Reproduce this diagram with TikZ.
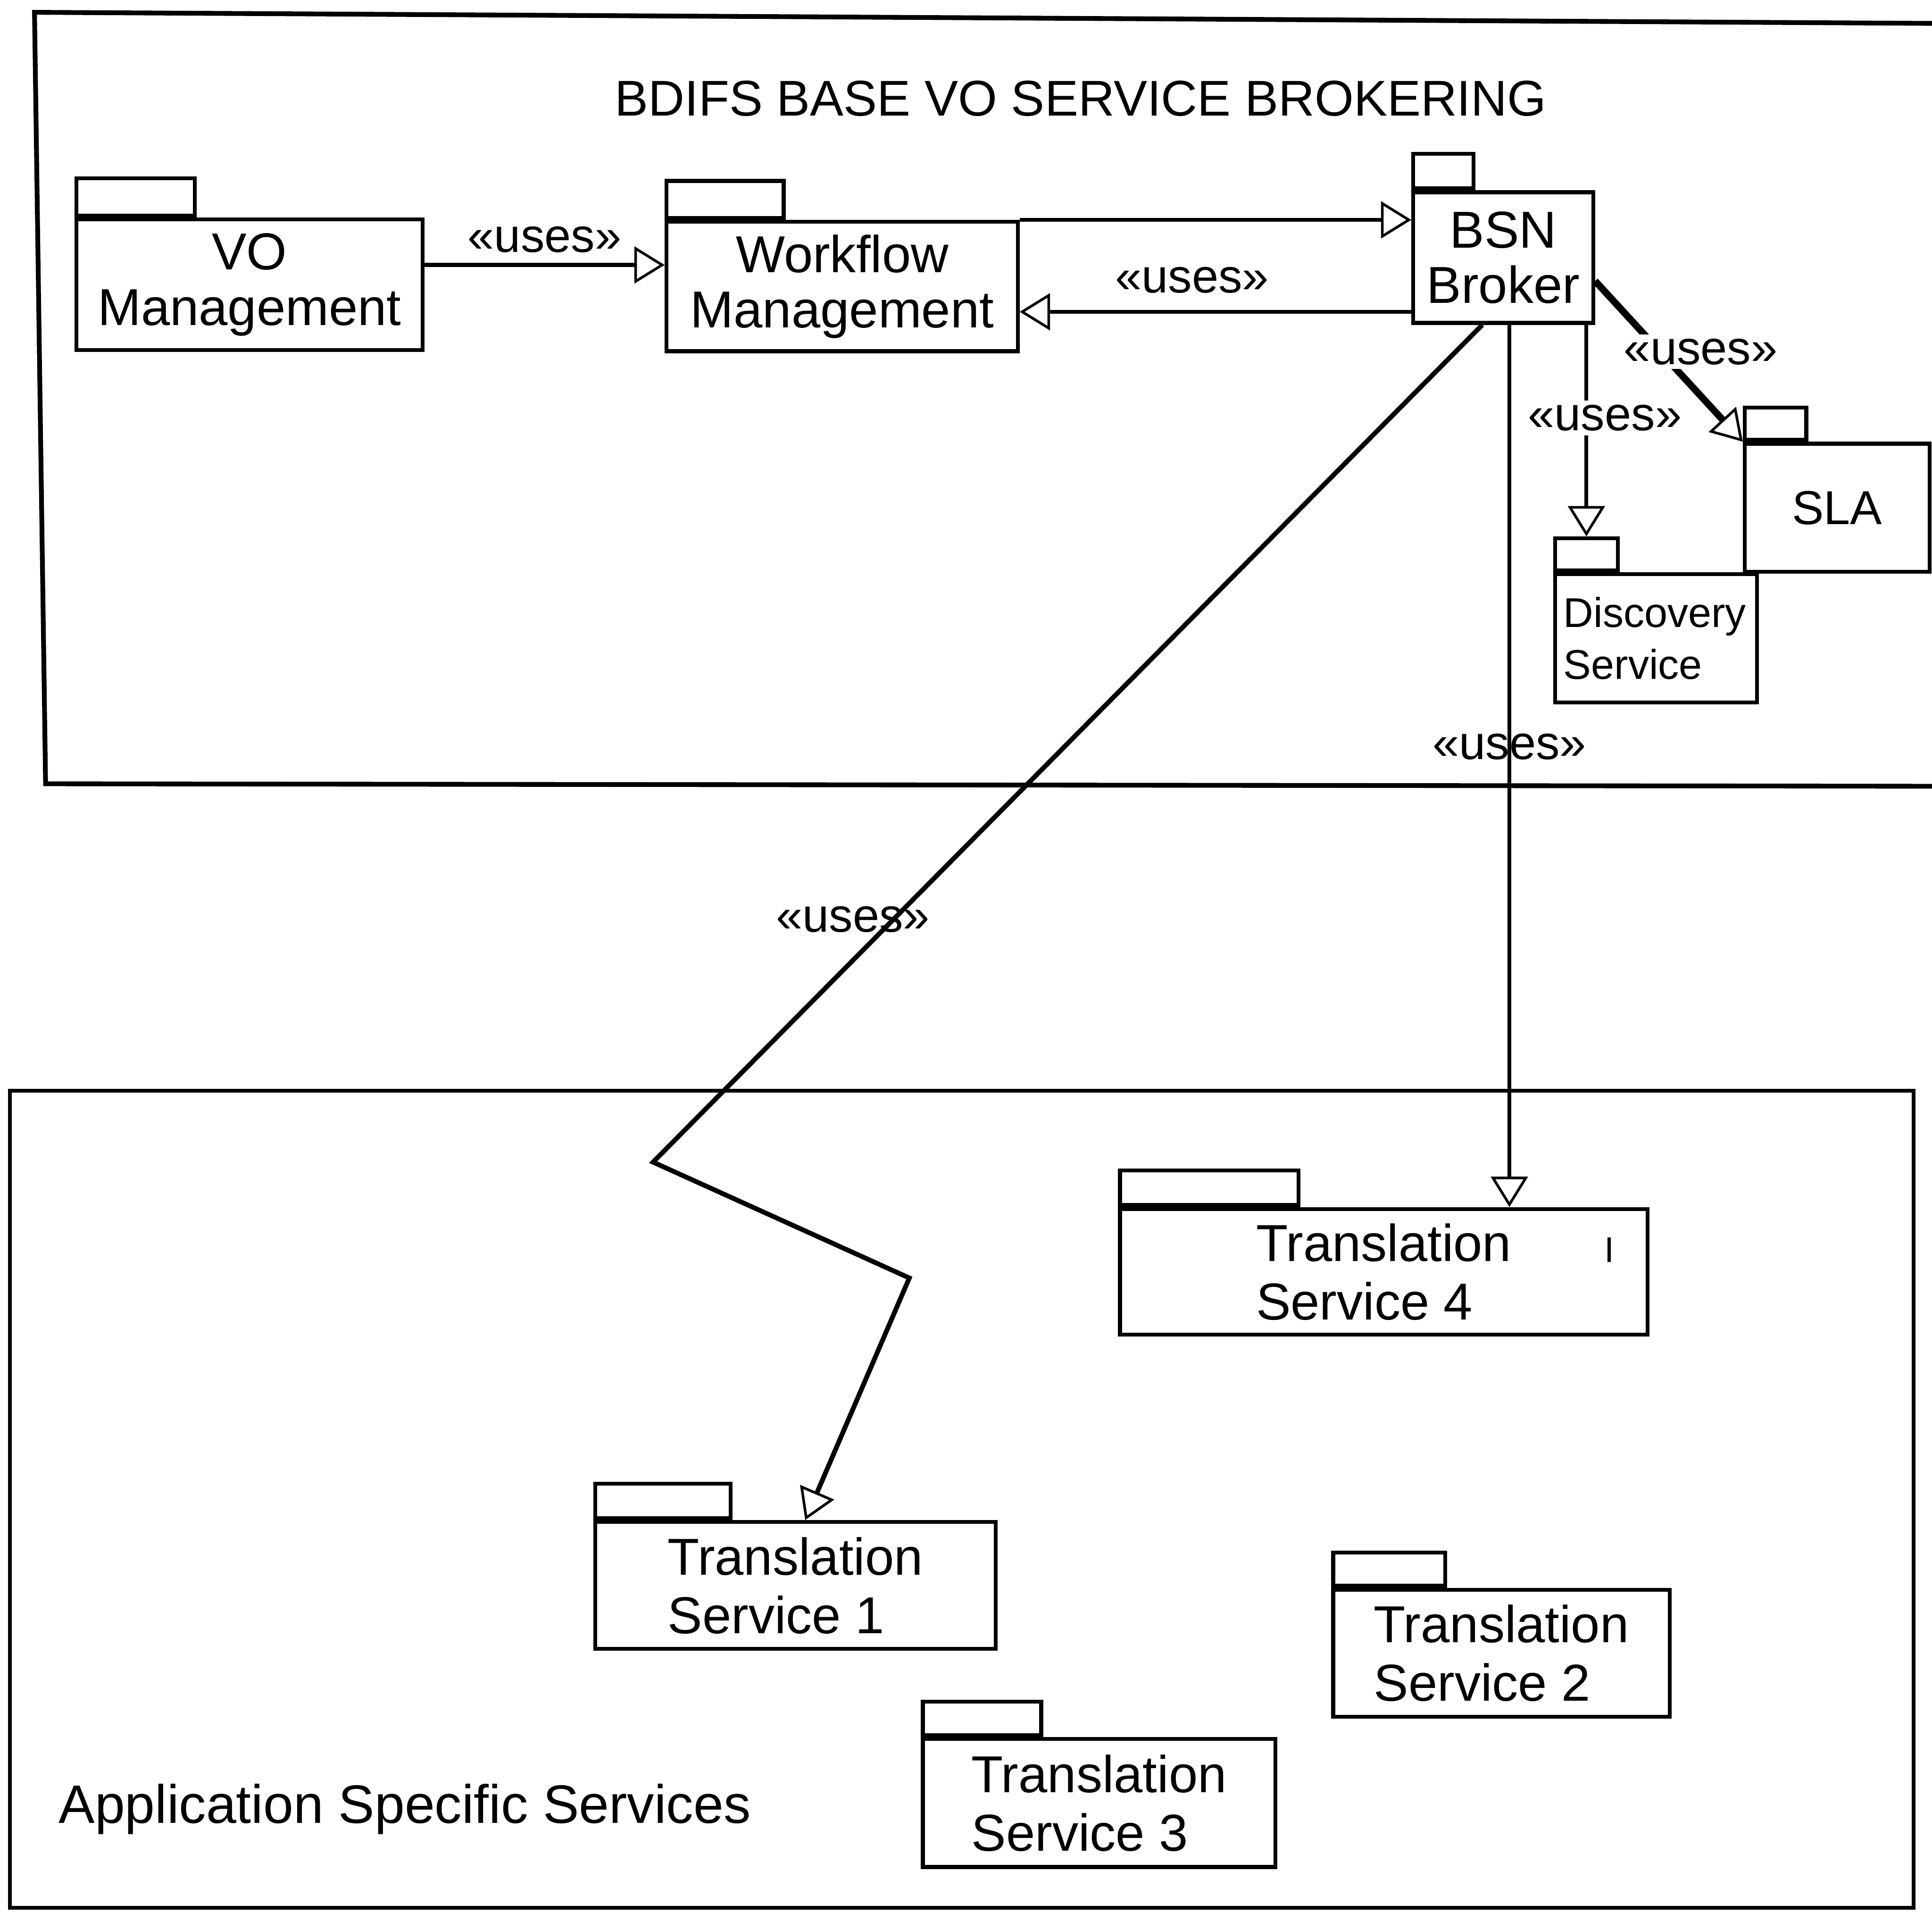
\documentclass[tikz,border=0pt]{standalone}
\usepackage{fontspec}
\setmainfont{Liberation Sans}
\usepackage{tikz}
\usetikzlibrary{arrows.meta,positioning,calc}

\begin{document}
\begin{tikzpicture}[
    pkg/.style={draw,line width=0.9pt,inner sep=0pt,align=center,
      minimum height=1.04cm,font=\fontsize{12}{13.5}\selectfont},
    pkgtab/.style={draw,line width=0.9pt,inner sep=0pt,anchor=south west},
    uses/.style={line width=0.9pt,
      -{Triangle[open,length=7pt,width=8.5pt,line width=0.6pt]}},
    lbl/.style={font=\fontsize{11}{12}\selectfont,inner sep=1pt}]
  % echelle : 1 cm = 100 px de l'image reduite
  \useasboundingbox (0,0) rectangle (15.68,15.52);
  \draw[line width=1.1pt] (15.72,15.33)--(0.28,15.42)--(0.37,9.16)--(15.72,9.14);
  \draw[line width=0.9pt] (0.08,0.04) rectangle (15.53,6.67);
  \node[font=\fontsize{11.6}{13}\selectfont] (title) at (8.77,14.72)
    {BDIFS BASE VO SERVICE BROKERING};
  \node[anchor=west,inner sep=0pt,font=\fontsize{12.5}{14}\selectfont] (app)
    at (0.47,0.84) {Application Specific Services};
  % paquetages
  \node[pkg,minimum width=2.81cm,minimum height=1.06cm,
    font=\fontsize{12}{12.8}\selectfont] (vo) at (2.025,13.21) {VO\\Management};
  \node[pkg,minimum width=2.85cm,minimum height=1.05cm,
    font=\fontsize{12}{12.8}\selectfont] (wf) at (6.835,13.195) {Workflow\\Management};
  \node[pkg,minimum width=1.46cm,minimum height=1.06cm,
    font=\fontsize{12}{12.8}\selectfont] (bsn) at (12.2,13.43) {BSN\\Broker};
  \node[pkg,minimum width=1.50cm,font=\fontsize{11}{12}\selectfont] (sla)
    at (14.91,11.40) {SLA};
  \node[pkg,minimum width=1.64cm,align=left,text width=1.5cm,
    font=\fontsize{9.6}{12}\selectfont] (disc) at (13.44,10.34) {Discovery\\Service};
  \node[pkg,minimum width=4.28cm,minimum height=1.02cm,align=left] (ts4)
    at (11.23,5.20) {Translation\\Service 4};
  \node[pkg,minimum width=3.25cm,minimum height=1.03cm,align=left] (ts1)
    at (6.455,2.655) {Translation\\Service 1};
  \node[pkg,minimum width=2.73cm,minimum height=1.03cm,align=left] (ts2)
    at (12.185,2.105) {Translation\\Service 2};
  \node[pkg,minimum width=2.86cm,align=left] (ts3)
    at (8.92,0.89) {Translation\\Service 3};
  \foreach \n/\w/\h in {vo/0.96/0.30,wf/0.95/0.30,bsn/0.49/0.28,sla/0.50/0.26,
      disc/0.51/0.26,ts4/1.45/0.28,ts1/1.10/0.28,ts2/0.91/0.27,ts3/0.96/0.27}{
    \node[pkgtab,minimum width=\w cm,minimum height=\h cm] (\n-tab)
      at (\n.north west) {};}
  \draw[line width=0.8pt] ([xshift=1.83cm,yshift=0.28cm]ts4.center) -- ++(0,-0.2);
  % dependances
  \coordinate (vw) at ([yshift=1.6mm]vo.east);
  \draw[uses] (vw) -- node[lbl,above=0.5mm]{«uses»} (vw -| wf.west);
  \draw[uses] (wf.north east) -- (wf.north east -| bsn.west);
  \coordinate (bw) at ([yshift=-4.4mm]bsn.west);
  \draw[uses] (bw) -- node[lbl,above=1mm,pos=0.56]{«uses»} (bw -| wf.east);
  \draw[uses,line width=1.6pt] ([yshift=-1.9mm]bsn.east)
    -- node[lbl,pos=0.44,xshift=3.3mm,fill=white]{«uses»} (sla.north west);
  \draw[uses] (disc-tab.north |- bsn.south)
    -- node[lbl,pos=0.44,xshift=1.5mm,fill=white]{«uses»} (disc-tab.north);
  \coordinate (b4) at ([xshift=0.5mm]bsn.south);
  \draw[uses] (b4) -- node[lbl,pos=0.478]{«uses»} (b4 |- ts4.north);
  \coordinate (bend1) at (5.30,6.09);
  \coordinate (bend2) at (7.38,5.15);
  \draw[uses,line width=1.1pt] ([xshift=-1.7mm]bsn.south)
    -- node[lbl,pos=0.71,xshift=-3.3mm]{«uses»} (bend1) -- (bend2)
    -- ([xshift=0.8mm]ts1.north);
\end{tikzpicture}
\end{document}
